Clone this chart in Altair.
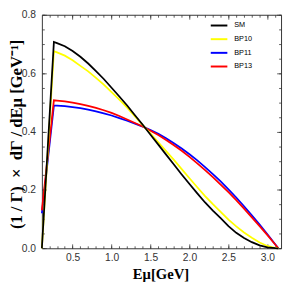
import altair as alt
import pandas as pd

# ---- data ----
E = [0.1057, 0.26, 0.3, 0.4, 0.5, 0.6, 0.7, 0.8, 0.9, 1.0, 1.1, 1.2, 1.3, 1.4,
     1.5, 1.6, 1.7, 1.8, 1.9, 2.0, 2.1, 2.2, 2.3, 2.4, 2.5, 2.6, 2.7, 2.8, 2.9,
     3.0, 3.1, 3.14]
SM = [0.0, 0.707, 0.703, 0.692, 0.676, 0.656, 0.633, 0.607, 0.580, 0.550, 0.520,
      0.489, 0.456, 0.423, 0.389, 0.355, 0.321, 0.287, 0.253, 0.220, 0.188, 0.157,
      0.129, 0.103, 0.076, 0.053, 0.035, 0.021, 0.010, 0.003, 0.0005, 0.0]
BP10 = [0.0, 0.675, 0.671, 0.660, 0.644, 0.625, 0.606, 0.584, 0.561, 0.535, 0.509,
        0.482, 0.452, 0.422, 0.393, 0.363, 0.333, 0.303, 0.271, 0.240, 0.209, 0.179,
        0.151, 0.125, 0.098, 0.075, 0.054, 0.036, 0.020, 0.008, 0.001, 0.0]
BP11 = [0.12, 0.489, 0.489, 0.487, 0.484, 0.480, 0.475, 0.469, 0.462, 0.455, 0.446,
        0.437, 0.427, 0.417, 0.405, 0.392, 0.377, 0.360, 0.342, 0.322, 0.301, 0.278,
        0.254, 0.229, 0.202, 0.174, 0.144, 0.113, 0.081, 0.048, 0.014, 0.0]
BP13 = [0.13, 0.507, 0.506, 0.503, 0.499, 0.494, 0.488, 0.481, 0.473, 0.464, 0.453,
        0.441, 0.429, 0.417, 0.403, 0.388, 0.371, 0.353, 0.334, 0.313, 0.291, 0.268,
        0.244, 0.218, 0.192, 0.165, 0.136, 0.106, 0.076, 0.045, 0.013, 0.0]

series_names = ["SM", "BP10", "BP11", "BP13"]
series_colors = ["#000000", "#ffff00", "#0000ff", "#ff0000"]
draw_order = ["BP11", "BP13", "BP10", "SM"]

x_major = [0.5, 1.0, 1.5, 2.0, 2.5, 3.0]
x_minor = [round(0.2 + 0.1 * i, 2) for i in range(30)]
y_major = [0.0, 0.2, 0.4, 0.6, 0.8]
y_minor = [round(0.05 * i, 2) for i in range(17)]

Y_TITLE = "(1\u2005/\u2005Γ)\u2002×\u2002dΓ\u2005/\u2005dEμ\u2005[GeV⁻¹]"
X_TITLE = "Eμ[GeV]"

values = {"SM": SM, "BP10": BP10, "BP11": BP11, "BP13": BP13}
rows = []
for k, name in enumerate(draw_order):
    for e, v in zip(E, values[name]):
        rows.append({"E": e, "v": v, "series": name, "ord": k})
df = pd.DataFrame(rows)

xs = alt.Scale(domain=[0.1057, 3.175], nice=False, zero=False)
ys = alt.Scale(domain=[0.0, 0.8], nice=False, zero=False)

FRAME = "#333333"
LABEL_FONT = "Liberation Sans"
TITLE_FONT = "Liberation Serif"


def tick_axis(orient, vals, size):
    return alt.Axis(orient=orient, values=vals, labels=False, domain=False,
                    grid=False, ticks=True, tickSize={"expr": str(-size)},
                    tickColor=FRAME, tickWidth=0.8, title=None)


lines = alt.Chart(df).mark_line(strokeWidth=1.8).encode(
    x=alt.X("E:Q", scale=xs,
            axis=alt.Axis(orient="bottom", values=x_major, format=".1f",
                          ticks=False, domain=False, grid=False,
                          labelFont=LABEL_FONT, labelFontSize=10.5,
                          labelColor="#333333", labelPadding=5,
                          title=X_TITLE, titleFont=TITLE_FONT,
                          titleFontSize=15, titleFontWeight="bold",
                          titleColor="black", titleX=121.5, titleY=31,
                          titleBaseline="alphabetic")),
    y=alt.Y("v:Q", scale=ys,
            axis=alt.Axis(orient="left", values=y_major, format=".1f",
                          ticks=False, domain=False, grid=False,
                          labelFont=LABEL_FONT, labelFontSize=10.5,
                          labelColor="#333333", labelPadding=6.5,
                          title=Y_TITLE, titleFont=TITLE_FONT,
                          titleFontSize=17, titleFontWeight="bold",
                          titleColor="black", titleX=-26, titleY=122,
                          titleAngle=270, titleBaseline="middle",
                          titleAlign="center")),
    color=alt.Color("series:N",
                    scale=alt.Scale(domain=series_names, range=series_colors),
                    legend=alt.Legend(orient="none", legendX=172, legendY=1.5,
                                      title=None, symbolType="stroke",
                                      symbolSize=289, symbolStrokeWidth=2,
                                      labelFont=LABEL_FONT, labelFontSize=7.5,
                                      labelColor="black", labelOffset=6,
                                      rowPadding=-1.5, padding=0)),
    order=alt.Order("ord:Q"),
)


def tick_layer(xo, xv, xsz, yo, yv, ysz):
    return alt.Chart(df).mark_point(opacity=0).encode(
        x=alt.X("E:Q", scale=xs, axis=tick_axis(xo, xv, xsz)),
        y=alt.Y("v:Q", scale=ys, axis=tick_axis(yo, yv, ysz)),
    )


chart = alt.layer(
    lines,
    tick_layer("bottom", x_major, 4.5, "left", y_major, 4.5),
    tick_layer("bottom", x_minor, 2.5, "left", y_minor, 2.5),
    tick_layer("top", x_major, 4.5, "right", y_major, 4.5),
    tick_layer("top", x_minor, 2.5, "right", y_minor, 2.5),
).resolve_axis(x="independent", y="independent").properties(
    width=245, height=239.2,
    autosize=alt.AutoSizeParams(type="none"),
    padding={"left": 34.7, "top": 3.5, "right": 2, "bottom": 40},
).configure_view(stroke=FRAME, strokeWidth=1)

chart.save("out.html", embed_options={"renderer": "svg", "actions": False})
